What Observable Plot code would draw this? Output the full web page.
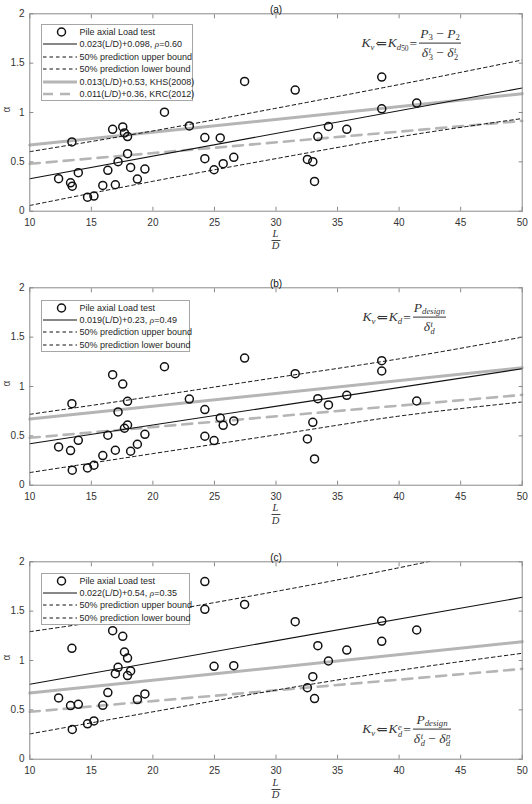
<!DOCTYPE html>
<html>
<head>
<meta charset="utf-8">
<script src="https://cdn.jsdelivr.net/npm/d3@7"></script>
<script src="https://cdn.jsdelivr.net/npm/@observablehq/plot@0.6"></script>
<style>
  html, body { margin: 0; padding: 0; background: #fff; }
  body { position: relative; width: 532px; height: 804px; overflow: hidden; font-family: "Liberation Sans", Arial, sans-serif; }
  .panel { position: absolute; left: 0; width: 532px; }
  .legend { position: absolute; background: #fff; border: 1px solid #a6a6a6; box-sizing: border-box; z-index: 5; }
  .lrow { position: absolute; left: 0; height: 12px; width: 100%; }
  .lrow svg { position: absolute; left: 1.5px; top: 0; }
  .lrow span { position: absolute; left: 38px; top: 0; font-size: 9px; line-height: 12px; color: #262626; white-space: nowrap; }
  .math { position: absolute; z-index: 6; font-family: "Liberation Serif", "DejaVu Serif", serif; font-size: 13.5px; color: #333; white-space: nowrap; transform: translateY(-50%); line-height: 1; }
  .math i { font-style: italic; }
  .math sub { font-size: 65%; vertical-align: -0.3em; line-height: 0; }
  .math sub sub { font-size: 85%; vertical-align: -0.2em; }
  .op { margin: 0 1px; font-style: normal; }
  .frac { display: inline-block; vertical-align: middle; text-align: center; margin-left: 1px; }
  .frac .num { display: block; padding: 0 1px 2px 1px; }
  .frac .den { display: block; border-top: 1px solid #333; padding: 2px 1px 0 1px; }
  .ss { display: inline-block; font-size: 62%; line-height: 0.9; vertical-align: -0.45em; margin-left: 0.5px; text-align: left; }
  .ss span { display: block; }
  .xlab { position: absolute; z-index: 6; font-family: "Liberation Serif", "DejaVu Serif", serif; font-style: italic; font-size: 10.5px; color: #333; width: 20px; text-align: center; transform: translate(-50%, -50%); line-height: 1; }
  .xbar { position: absolute; z-index: 6; height: 0; border-top: 1px solid #444; width: 9px; transform: translateX(-50%); }
</style>
</head>
<body>
<script>
// ---------------- data ----------------
const xTicks = [10, 15, 20, 25, 30, 35, 40, 45, 50];
const yTicks = [0, 0.5, 1, 1.5, 2];
const panelTitles = ["(a)", "(b)", "(c)"];

// panel (a): Kd50
const ldA = [12.34,13.31,13.45,13.42,13.94,14.69,15.21,15.93,16.34,16.73,16.95,17.17,17.55,17.69,17.94,17.94,18.19,18.74,19.35,20.94,22.96,24.22,24.22,24.97,25.47,25.71,26.57,27.45,31.56,32.55,32.99,33.13,33.40,34.26,35.75,38.59,38.59,41.43];
const alphaA = [0.329,0.288,0.254,0.702,0.390,0.142,0.153,0.261,0.414,0.830,0.268,0.502,0.854,0.793,0.756,0.583,0.444,0.325,0.427,1.003,0.864,0.746,0.532,0.420,0.742,0.481,0.546,1.315,1.227,0.525,0.502,0.302,0.756,0.858,0.830,1.359,1.037,1.095];

// panel (b): Kd
const ldB = [12.34,13.31,13.42,13.45,13.94,14.69,15.21,15.93,16.34,16.73,16.95,17.17,17.55,17.69,17.94,17.94,18.19,18.74,19.35,20.94,22.96,24.22,24.22,24.97,25.47,25.71,26.57,27.45,31.56,32.55,32.99,33.13,33.40,34.26,35.75,38.59,38.59,41.43];
const alphaB = [0.388,0.351,0.826,0.152,0.455,0.175,0.202,0.300,0.506,1.120,0.354,0.742,1.025,0.577,0.850,0.610,0.344,0.415,0.516,1.200,0.873,0.766,0.496,0.452,0.681,0.607,0.651,1.288,1.130,0.469,0.637,0.266,0.877,0.813,0.911,1.262,1.157,0.853];

// panel (c): Kd^e
const ldC = [12.34,13.31,13.42,13.45,13.94,14.69,15.21,15.93,16.34,16.73,16.95,17.17,17.55,17.69,17.94,17.94,18.19,18.74,19.35,24.22,24.22,24.97,26.57,27.45,31.56,32.55,32.99,33.13,33.40,34.26,35.75,38.59,38.59,41.43];
const alphaC = [0.621,0.543,1.123,0.301,0.556,0.358,0.388,0.546,0.675,1.302,0.867,0.931,1.245,1.086,1.025,0.847,0.894,0.604,0.661,1.800,1.518,0.941,0.948,1.568,1.393,0.725,0.836,0.614,1.150,0.995,1.106,1.400,1.194,1.309];

// regression lines (endpoints at L/D = 10 and 50)
const fitX = [10, 50];
const fitA = [0.328, 1.248];
const fitB = [0.420, 1.180];
const fitC = [0.760, 1.640];
const khsY = [0.670, 1.190];   // 0.013(L/D)+0.53, KHS(2008)
const krcY = [0.480, 0.915];   // 0.011(L/D)+0.36, KRC(2012)

// 50% prediction bounds
const boundX = [10, 20, 30, 40, 50];
const upperA = [0.603, 0.813, 1.043, 1.283, 1.532];
const lowerA = [0.058, 0.303, 0.533, 0.753, 0.939];
const upperB = [0.718, 0.900, 1.090, 1.280, 1.500];
const lowerB = [0.128, 0.320, 0.510, 0.700, 0.843];
const upperC = [1.292, 1.480, 1.700, 1.940, 2.210];
const lowerC = [0.256, 0.480, 0.700, 0.900, 1.073];

const legendA = ["Pile axial Load test", "0.023(L/D)+0.098, ρ=0.60", "50% prediction upper bound", "50% prediction lower bound", "0.013(L/D)+0.53, KHS(2008)", "0.011(L/D)+0.36, KRC(2012)"];
const legendB = ["Pile axial Load test", "0.019(L/D)+0.23, ρ=0.49", "50% prediction upper bound", "50% prediction lower bound"];
const legendC = ["Pile axial Load test", "0.022(L/D)+0.54, ρ=0.35", "50% prediction upper bound", "50% prediction lower bound"];

// ---------------- drawing ----------------
const zip = (xs, ys) => xs.map((x, i) => ({x, y: ys[i]}));
const AX = "#8a8a8a";
const GRAY = "#b5b5b5";

function panel(title, ld, alpha, fit, upper, lower) {
  return Plot.plot({
    width: 532, height: 256,
    marginLeft: 29.3, marginRight: 10.3, marginTop: 13.3, marginBottom: 45.3,
    style: {fontFamily: "'Liberation Sans', Arial, sans-serif", fontSize: "10px", color: "#333", background: "transparent", overflow: "visible"},
    x: {domain: [10, 50]},
    y: {domain: [0, 2]},
    marks: [
      Plot.line(zip(fitX, khsY), {x: "x", y: "y", stroke: GRAY, strokeWidth: 3}),
      Plot.line(zip(fitX, krcY), {x: "x", y: "y", stroke: GRAY, strokeWidth: 2.6, strokeDasharray: "10,7"}),
      Plot.line(zip(boundX, upper), {x: "x", y: "y", stroke: "#111", strokeWidth: 1, strokeDasharray: "3.5,3", curve: "monotone-x", clip: true}),
      Plot.line(zip(boundX, lower), {x: "x", y: "y", stroke: "#111", strokeWidth: 1, strokeDasharray: "3.5,3", curve: "monotone-x", clip: true}),
      Plot.line(zip(fitX, fit), {x: "x", y: "y", stroke: "#111", strokeWidth: 1.1}),
      Plot.dot(zip(ld, alpha), {x: "x", y: "y", r: 4, stroke: "#111", strokeWidth: 1.5, fill: "none"}),
      Plot.frame({stroke: AX}),
      Plot.axisX(xTicks, {anchor: "bottom", tickSize: -4, tickPadding: 11.4, stroke: AX, fill: "#333", tickFormat: d => String(d), label: null}),
      Plot.axisX(xTicks, {anchor: "top", tickSize: -4, stroke: AX, tickFormat: () => "", label: null}),
      Plot.axisY(yTicks, {anchor: "left", tickSize: -4, tickPadding: 9.3, stroke: AX, fill: "#333", tickFormat: d => String(d), label: null}),
      Plot.axisY(yTicks, {anchor: "right", tickSize: -4, stroke: AX, tickFormat: () => "", label: null}),
      Plot.text([title], {frameAnchor: "top", dy: -7.5, fontSize: 10, fill: "#111"}),
      Plot.text(["α"], {frameAnchor: "left", dx: -23.5, rotate: -90, fontSize: 10, fill: "#444"})
    ]
  });
}

const tops = [0, 274, 548.4];
const specs = [
  [panelTitles[0], ldA, alphaA, fitA, upperA, lowerA],
  [panelTitles[1], ldB, alphaB, fitB, upperB, lowerB],
  [panelTitles[2], ldC, alphaC, fitC, upperC, lowerC]
];
specs.forEach((s, i) => {
  const div = document.createElement("div");
  div.className = "panel";
  div.style.top = tops[i] + "px";
  div.appendChild(panel(...s));
  document.body.appendChild(div);
});

// ---------------- legends ----------------
const samples = [
  `<circle cx="18.5" cy="6" r="4" fill="none" stroke="#111" stroke-width="1.5"/>`,
  `<line x1="0" x2="34" y1="6" y2="6" stroke="#111" stroke-width="1.1"/>`,
  `<line x1="0" x2="34" y1="6" y2="6" stroke="#111" stroke-width="1" stroke-dasharray="3.5,3"/>`,
  `<line x1="0" x2="34" y1="6" y2="6" stroke="#111" stroke-width="1" stroke-dasharray="3.5,3"/>`,
  `<line x1="0" x2="34" y1="6" y2="6" stroke="${GRAY}" stroke-width="3"/>`,
  `<line x1="0" x2="34" y1="6" y2="6" stroke="${GRAY}" stroke-width="2.6" stroke-dasharray="10,7"/>`
];
function legend(items, left, top, width) {
  const box = document.createElement("div");
  box.className = "legend";
  const step = 12.4;
  box.style.left = left + "px";
  box.style.top = top + "px";
  box.style.width = width + "px";
  box.style.height = (8 + (items.length - 1) * step + 7) + "px";
  items.forEach((t, i) => {
    const r = document.createElement("div");
    r.className = "lrow";
    r.style.top = (8 - 6 + i * step - 1) + "px";
    r.innerHTML = `<svg width="35" height="12">${samples[i]}</svg><span>${t.replace("ρ", "<i style='font-family:Liberation Serif,serif'>ρ</i>")}</span>`;
    box.appendChild(r);
  });
  document.body.appendChild(box);
}
legend(legendA, 40.5, 24, 152.5);
legend(legendB, 40.5, 299.5, 149.5);
legend(legendC, 40.5, 572.5, 149.5);

// ---------------- formulas ----------------
const ss = (sup, sub) => `<span class="ss"><span>${sup}</span><span>${sub}</span></span>`;
function math(html, left, cy) {
  const d = document.createElement("div");
  d.className = "math";
  d.style.left = left + "px";
  d.style.top = cy + "px";
  d.innerHTML = html;
  document.body.appendChild(d);
}
math(`<i>K</i><sub><i>v</i></sub><span class="op">⇐</span><i>K</i><sub><i>d</i><sub>50</sub></sub><span class="op">=</span>` +
     `<span class="frac"><span class="num"><i>P</i><sub>3</sub> − <i>P</i><sub>2</sub></span>` +
     `<span class="den"><i>δ</i>${ss("<i>t</i>", "3")} − <i>δ</i>${ss("<i>t</i>", "2")}</span></span>`, 361.5, 44);
math(`<i>K</i><sub><i>v</i></sub><span class="op">⇐</span><i>K</i><sub><i>d</i></sub><span class="op">=</span>` +
     `<span class="frac"><span class="num"><i>P</i><sub><i>design</i></sub></span>` +
     `<span class="den"><i>δ</i>${ss("<i>t</i>", "<i>d</i>")}</span></span>`, 362.5, 318);
math(`<i>K</i><sub><i>v</i></sub><span class="op">⇐</span><i>K</i>${ss("<i>e</i>", "<i>d</i>")}<span class="op">=</span>` +
     `<span class="frac"><span class="num"><i>P</i><sub><i>design</i></sub></span>` +
     `<span class="den"><i>δ</i>${ss("<i>t</i>", "<i>d</i>")} − <i>δ</i>${ss("<i>p</i>", "<i>d</i>")}</span></span>`, 362.3, 730);

// ---------------- x-axis labels L/D ----------------
const bottoms = [210.7, 485.3, 759.5];
bottoms.forEach(b => {
  const L = document.createElement("div"); L.className = "xlab"; L.textContent = "L";
  L.style.left = "275.5px"; L.style.top = (b + 23) + "px"; document.body.appendChild(L);
  const bar = document.createElement("div"); bar.className = "xbar";
  bar.style.left = "275.5px"; bar.style.top = (b + 29) + "px"; document.body.appendChild(bar);
  const D = document.createElement("div"); D.className = "xlab"; D.textContent = "D";
  D.style.left = "275.5px"; D.style.top = (b + 35.5) + "px"; document.body.appendChild(D);
});
</script>
</body>
</html>
